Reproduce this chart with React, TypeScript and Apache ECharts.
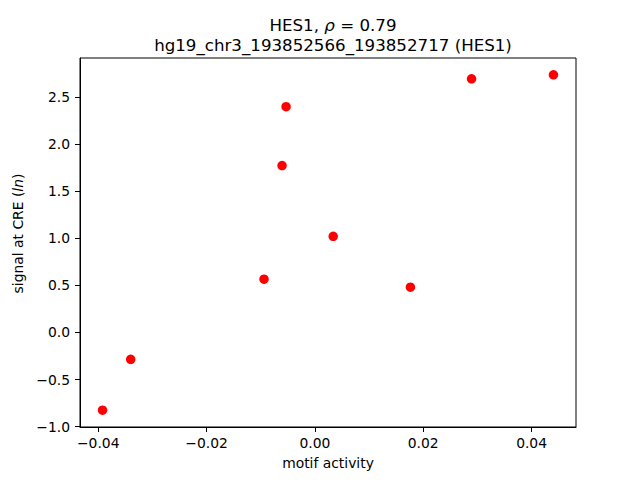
import React, { useEffect, useRef } from "react";
import * as echarts from "echarts";

const motifActivity = [-0.0392, -0.034, -0.00939, -0.00606, -0.00532, 0.00338, 0.01763, 0.02892, 0.04404];
const signalAtCRE = [-0.825, -0.285, 0.5655, 1.772, 2.396, 1.0205, 0.481, 2.692, 2.735];
const xTicks = [-0.04, -0.02, 0.0, 0.02, 0.04];
const yTicks = [-1.0, -0.5, 0.0, 0.5, 1.0, 1.5, 2.0, 2.5];
const titleLine1 = "HES1, {i|ρ} = 0.79";
const titleLine2 = "hg19_chr3_193852566_193852717 (HES1)";

const FONT = "DejaVu Sans";
const fmt = (v: number, d: number) => {
  const s = Math.abs(v).toFixed(d);
  return v < -1e-12 ? "\u2212" + s : s;
};

export default function App() {
  const ref = useRef<HTMLDivElement>(null);
  useEffect(() => {
    if (!ref.current) return;
    const chart = echarts.init(ref.current, undefined, { renderer: "svg" });
    chart.setOption({
      animation: false,
      backgroundColor: "#ffffff",
      title: {
        text: titleLine1 + "\n" + titleLine2,
        left: 328,
        top: 10,
        textAlign: "center",
        textStyle: {
          fontFamily: FONT,
          fontSize: 16.67,
          fontWeight: "normal",
          color: "#000",
          lineHeight: 20,
          rich: {
            i: { fontFamily: FONT, fontSize: 16.67, fontStyle: "italic", color: "#000", lineHeight: 20 },
          },
        },
      },
      grid: {
        left: 80,
        right: 64,
        top: 58,
        bottom: 53,
        show: true,
        borderColor: "#000",
        borderWidth: 1,
        backgroundColor: "transparent",
      },
      xAxis: {
        type: "value",
        min: -0.04336,
        max: 0.0482,
        name: "motif activity",
        nameLocation: "middle",
        nameGap: 29,
        nameTextStyle: { fontFamily: FONT, fontSize: 13.89, color: "#000" },
        axisLine: { show: true, onZero: false, lineStyle: { color: "#000", width: 1 } },
        axisTick: { show: true, length: 5, lineStyle: { color: "#000", width: 1 }, customValues: xTicks },
        axisLabel: {
          fontFamily: FONT,
          fontSize: 13.89,
          color: "#000",
          margin: 9,
          customValues: xTicks,
          formatter: (v: number) => fmt(v, 2),
        },
        splitLine: { show: false },
      },
      yAxis: {
        type: "value",
        min: -1.003,
        max: 2.913,
        name: "signal at CRE ({i|ln})",
        nameLocation: "middle",
        nameRotate: 90,
        nameGap: 52,
        nameTextStyle: {
          fontFamily: FONT,
          fontSize: 13.89,
          color: "#000",
          padding: [0, 0, 0, 18],
          rich: { i: { fontFamily: FONT, fontSize: 13.89, fontStyle: "italic", color: "#000" } },
        },
        axisLine: { show: true, onZero: false, lineStyle: { color: "#000", width: 1 } },
        axisTick: { show: true, length: 5, lineStyle: { color: "#000", width: 1 }, customValues: yTicks },
        axisLabel: {
          fontFamily: FONT,
          fontSize: 13.89,
          color: "#000",
          margin: 10,
          customValues: yTicks,
          formatter: (v: number) => fmt(v, 1),
        },
        splitLine: { show: false },
      },
      series: [
        {
          type: "scatter",
          data: motifActivity.map((x, i) => [x, signalAtCRE[i]]),
          symbol: "circle",
          symbolSize: 9.5,
          itemStyle: { color: "#ff0000", opacity: 1 },
          emphasis: { disabled: true },
        },
      ],
    });
    return () => chart.dispose();
  }, []);
  return <div ref={ref} style={{ width: 640, height: 480, position: "absolute", left: 0, top: 0 }} />;
}
